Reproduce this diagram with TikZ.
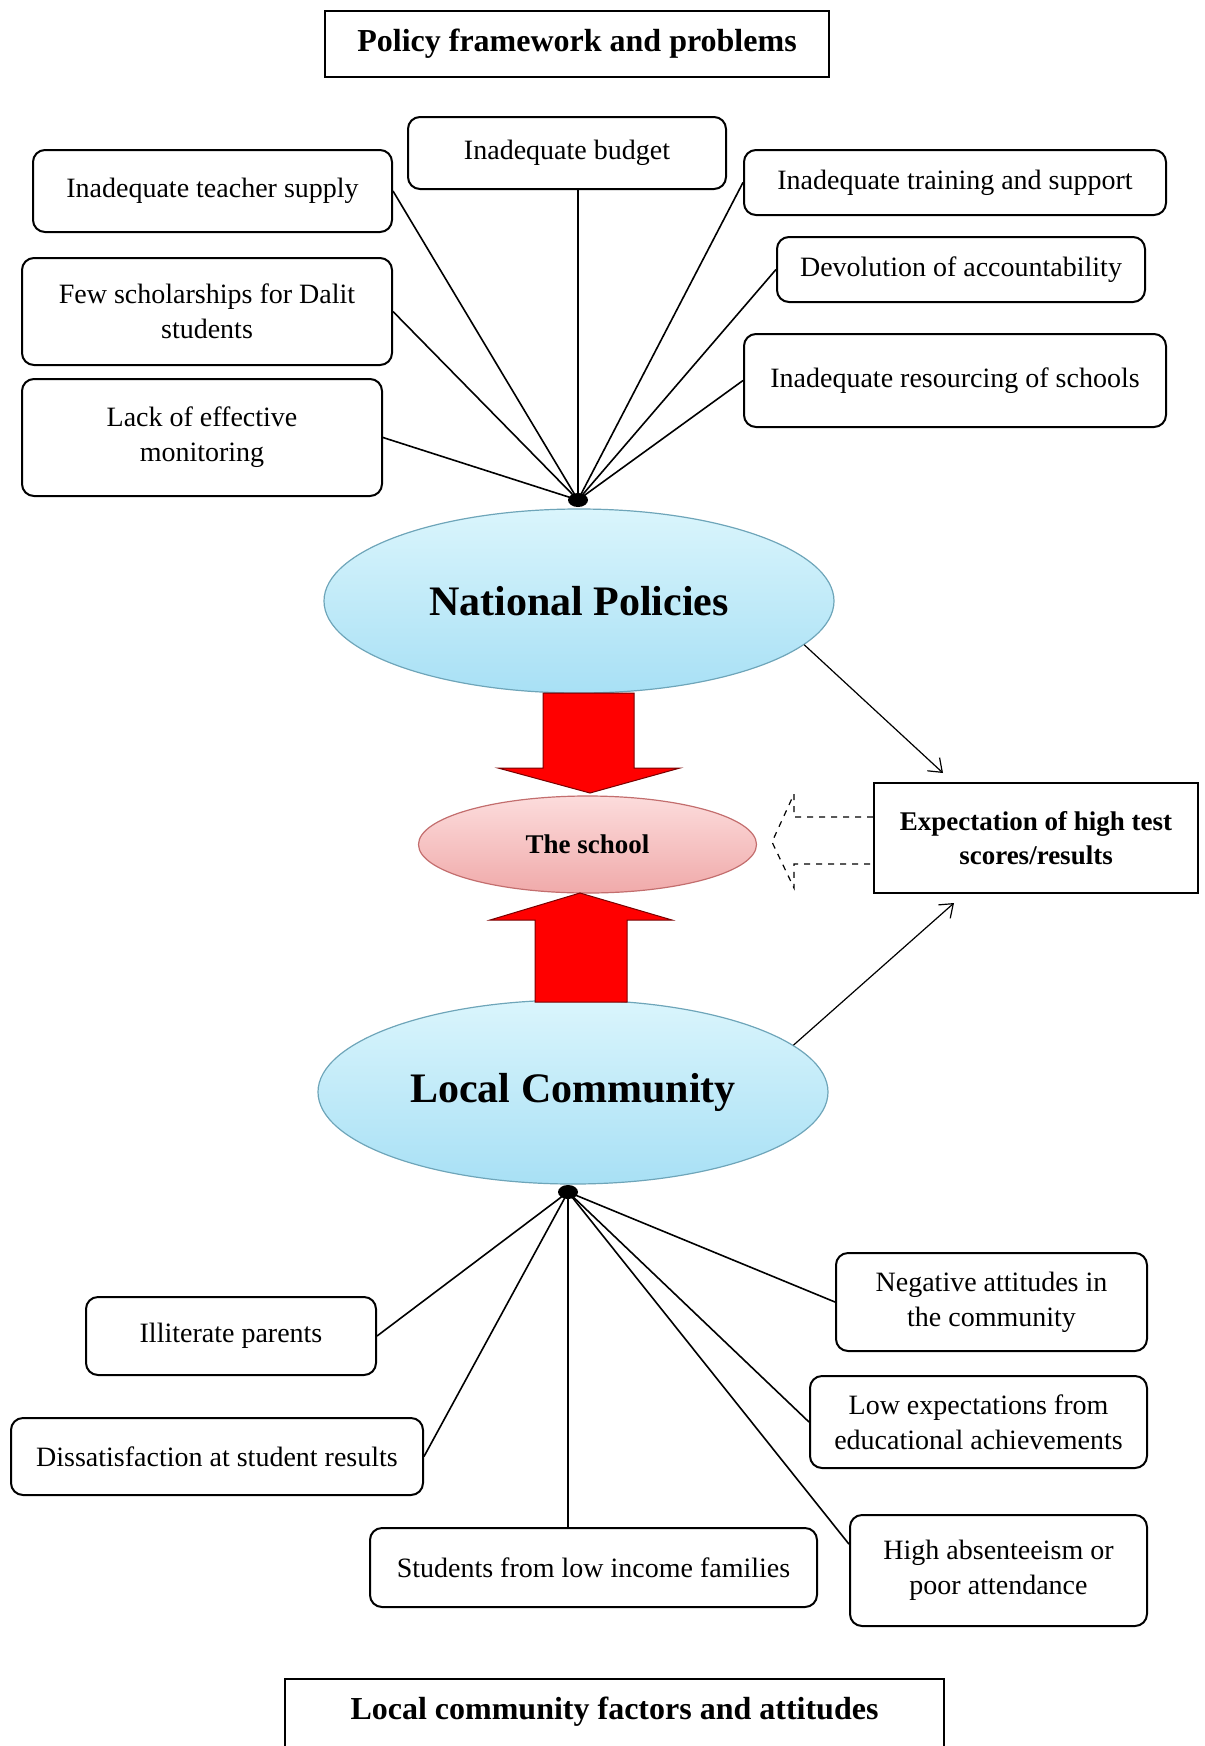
\documentclass[tikz,border=0pt]{standalone}
\usepackage{fontspec}
\setmainfont{Liberation Serif}
\usetikzlibrary{shapes.geometric,arrows.meta}
\definecolor{ovaltop}{RGB}{218,245,252}
\definecolor{ovalbot}{RGB}{168,224,245}
\definecolor{ovalrim}{RGB}{110,165,185}
\definecolor{schooltop}{RGB}{252,220,220}
\definecolor{schoolbot}{RGB}{240,170,170}
\definecolor{schoolrim}{RGB}{195,110,110}
\definecolor{arrowrim}{RGB}{120,0,0}
\begin{document}
\begin{tikzpicture}[x=0.5pt,y=-0.5pt,
    factor/.style={draw=black, line width=1pt, rounded corners=6pt, align=center, inner sep=2pt, font=\fontsize{14}{17.5}\selectfont},
    heading/.style={draw=black, line width=1pt, align=center, font=\fontsize{16}{19}\selectfont\bfseries},
    bigoval/.style={ellipse, draw=ovalrim, line width=0.6pt, top color=ovaltop, bottom color=ovalbot, inner sep=0pt, minimum width=255pt, minimum height=92pt, font=\fontsize{21}{25}\selectfont\bfseries},
    schooloval/.style={ellipse, draw=schoolrim, line width=0.6pt, top color=schooltop, bottom color=schoolbot, inner sep=0pt, font=\fontsize{13.5}{16}\selectfont\bfseries},
    hub/.style={ellipse, fill=black, inner sep=0pt, minimum width=10pt, minimum height=7pt},
    spoke/.style={draw=black, line width=0.8pt},
    thinarrow/.style={draw=black, line width=0.6pt, -{Straight Barb[length=6pt,width=9pt]}},
    blockarrow/.style={fill=red, draw=arrowrim, line width=0.5pt}]
\useasboundingbox (0,0) rectangle (1205,1746);
%%% Headings
\node[heading, minimum width=252pt, minimum height=33pt] (poltitle) at (577,44) {Policy framework and problems};
\node[heading, anchor=north, minimum width=329.5pt, text height=16pt, text depth=40pt, inner ysep=4pt] (comtitle) at (614.5,1678) {Local community factors and attitudes};
%%% Policy problems
\node[factor, minimum width=159pt, minimum height=36pt] (budget) at (567,153) {Inadequate budget};
\node[factor, minimum width=179.5pt, minimum height=41pt] (teacher) at (212.5,191) {Inadequate teacher supply};
\node[factor, minimum width=211pt, minimum height=32.5pt] (training) at (955,182.5) {Inadequate training and support};
\node[factor, minimum width=185pt, minimum height=53.5pt] (dalit) at (207,311.5) {Few scholarships for Dalit\\students};
\node[factor, minimum width=184pt, minimum height=32.5pt] (devolution) at (961,269.5) {Devolution of accountability};
\node[factor, minimum width=211pt, minimum height=46.5pt] (resourcing) at (955,380.5) {Inadequate resourcing of schools};
\node[factor, minimum width=180pt, minimum height=58.5pt] (monitoring) at (202,437.5) {Lack of effective\\monitoring};
%%% The three ovals
\node[bigoval] (natpol) at (579,601) {National Policies};
\node[schooloval, minimum width=169pt, minimum height=48.5pt] (school) at (587.5,844.5) {The school};
\node[bigoval] (localcom) at (573,1092) {Local Community};
%%% Expectation box
\node[draw=black, line width=1pt, align=center, minimum width=162pt, minimum height=55pt, font=\fontsize{13.5}{17}\selectfont\bfseries] (expect) at (1036,838) {Expectation of high test\\scores/results};
%%% Community factors
\node[factor, minimum width=145pt, minimum height=39pt] (illiterate) at (231,1336) {Illiterate parents};
\node[factor, minimum width=206pt, minimum height=38.5pt] (dissatis) at (217,1456.5) {Dissatisfaction at student results};
\node[factor, minimum width=223.5pt, minimum height=39.5pt] (lowincome) at (593.5,1567.5) {Students from low income families};
\node[factor, minimum width=155.5pt, minimum height=49pt] (negative) at (991.5,1302) {Negative attitudes in\\the community};
\node[factor, minimum width=168.5pt, minimum height=46pt] (lowexp) at (978.5,1422) {Low expectations from\\educational achievements};
\node[factor, minimum width=148.5pt, minimum height=55.5pt] (absent) at (998.5,1570.5) {High absenteeism or\\poor attendance};
%%% Spokes to the hubs
\coordinate (hubtop) at (578,500);
\coordinate (hubbot) at (568,1192);
\foreach \f in {teacher,dalit,monitoring}
    \draw[spoke] (\f.east) -- (hubtop);
\foreach \f in {training,devolution,resourcing}
    \draw[spoke] (\f.west) -- (hubtop);
\draw[spoke] (hubtop |- budget.south) -- (hubtop);
\foreach \f in {illiterate,dissatis}
    \draw[spoke] (\f.east) -- (hubbot);
\foreach \f in {negative,lowexp}
    \draw[spoke] (\f.west) -- (hubbot);
\draw[spoke] (absent.170) -- (hubbot);
\draw[spoke] (hubbot |- lowincome.north) -- (hubbot);
\node[hub] (hubtopdot) at (hubtop) {};
\node[hub] (hubbotdot) at (hubbot) {};
%%% Heavy red arrows
\path[blockarrow] (543,693) -- (634,693) -- (634,768) -- (680,768) -- (590,793) -- (498,768) -- (543,768) -- cycle;
\path[blockarrow] (535,1002) -- (535,920) -- (490,920) -- (580,893) -- (672,920) -- (627,920) -- (627,1002) -- cycle;
%%% Dashed hollow arrow
\draw[dashed, line width=0.6pt] (expect.west |- 0,817) -- (794,817) -- (794,794) -- (772,842) -- (794,888) -- (794,864) -- (expect.west |- 0,864);
%%% Thin arrows to the expectation box
\draw[thinarrow] (natpol.-11) -- ([xshift=35pt,yshift=4.5pt]expect.north west);
\draw[thinarrow] (localcom.12.5) -- ([xshift=40.5pt,yshift=-4.5pt]expect.south west);
\end{tikzpicture}
\end{document}
